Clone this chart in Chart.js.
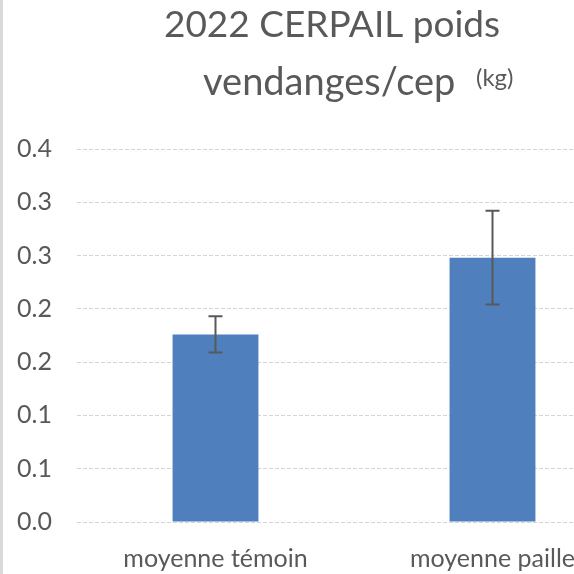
<!DOCTYPE html>
<html>
<head>
<meta charset="utf-8">
<script src="https://cdn.jsdelivr.net/npm/chart.js@4/dist/chart.umd.min.js"></script>
<style>
  html, body { margin: 0; padding: 0; background: #fff; overflow: hidden; }
  #wrap { position: absolute; left: 0; top: 0; width: 664px; height: 574px; }
</style>
</head>
<body>
<div id="wrap"><canvas id="chart" width="664" height="574"></canvas></div>
<script>
'use strict';

// ── Data ──────────────────────────────────────────────────
const categories  = ['moyenne témoin', 'moyenne paille'];
const poids       = [0.176, 0.248];
const erreurs     = [0.017, 0.044];
const yTickLabels = ['0.0', '0.1', '0.1', '0.2', '0.2', '0.3', '0.3', '0.4'];
const titleLine1  = '2022 CERPAIL poids';
const titleLine2  = 'vendanges/cep';
const titleUnit   = '(kg)';

const FONT = 'Lato, "Open Sans", sans-serif';
const GREY = '#595959';

// ── Plugins ───────────────────────────────────────────────
const titlePlugin = {
  id: 'titre',
  afterDraw(chart) {
    const ctx = chart.ctx;
    const cx  = chart.width / 2;
    ctx.save();
    ctx.fillStyle = GREY;
    ctx.textBaseline = 'alphabetic';
    ctx.font = '37px ' + FONT;
    ctx.textAlign = 'center';
    ctx.fillText(titleLine1, cx, 37);
    ctx.textAlign = 'left';
    ctx.font = '38px ' + FONT;
    ctx.fillText(titleLine2, cx - 129, 95);
    ctx.font = '24px ' + FONT;
    ctx.fillText(titleUnit, 476, 86);
    // left border of the chart frame
    ctx.fillStyle = '#dadada';
    ctx.fillRect(0, 0, 3, chart.height);
    ctx.restore();
  }
};

const errorBarPlugin = {
  id: 'barresErreur',
  afterDatasetsDraw(chart) {
    const ctx  = chart.ctx;
    const y    = chart.scales.y;
    const meta = chart.getDatasetMeta(0);
    ctx.save();
    ctx.strokeStyle = GREY;
    ctx.lineWidth = 2;
    meta.data.forEach((bar, i) => {
      const top = y.getPixelForValue(poids[i] + erreurs[i]);
      const bot = y.getPixelForValue(poids[i] - erreurs[i]);
      const x = bar.x;
      ctx.beginPath();
      ctx.moveTo(x, top); ctx.lineTo(x, bot);
      ctx.moveTo(x - 7, top); ctx.lineTo(x + 7, top);
      ctx.moveTo(x - 7, bot); ctx.lineTo(x + 7, bot);
      ctx.stroke();
    });
    ctx.restore();
  }
};

// ── Chart ─────────────────────────────────────────────────
new Chart(document.getElementById('chart'), {
  type: 'bar',
  data: {
    labels: categories,
    datasets: [{
      data: poids,
      backgroundColor: '#4f80bd',
      borderWidth: 0,
      categoryPercentage: 1,
      barPercentage: 0.31
    }]
  },
  options: {
    responsive: false,
    animation: false,
    devicePixelRatio: 1,
    layout: { padding: { top: 149, right: 33, bottom: 0, left: 0 } },
    plugins: { legend: { display: false }, tooltip: { enabled: false }, title: { display: false } },
    scales: {
      x: {
        afterFit: s => { s.height = 52; },
        grid: { display: false, drawTicks: false },
        border: { display: false },
        ticks: { color: GREY, font: { family: FONT, size: 25 }, padding: 22, maxRotation: 0 }
      },
      y: {
        min: 0, max: 0.35,
        afterFit: s => { s.width = 77; },
        grid: { color: '#d4d4d4', drawTicks: false, lineWidth: 1 },
        border: { display: false, dash: [4, 2] },
        ticks: {
          stepSize: 0.05,
          color: GREY,
          font: { family: FONT, size: 25 },
          padding: 25,
          callback: (v, i) => yTickLabels[i]
        }
      }
    }
  },
  plugins: [titlePlugin, errorBarPlugin]
});
</script>
</body>
</html>
